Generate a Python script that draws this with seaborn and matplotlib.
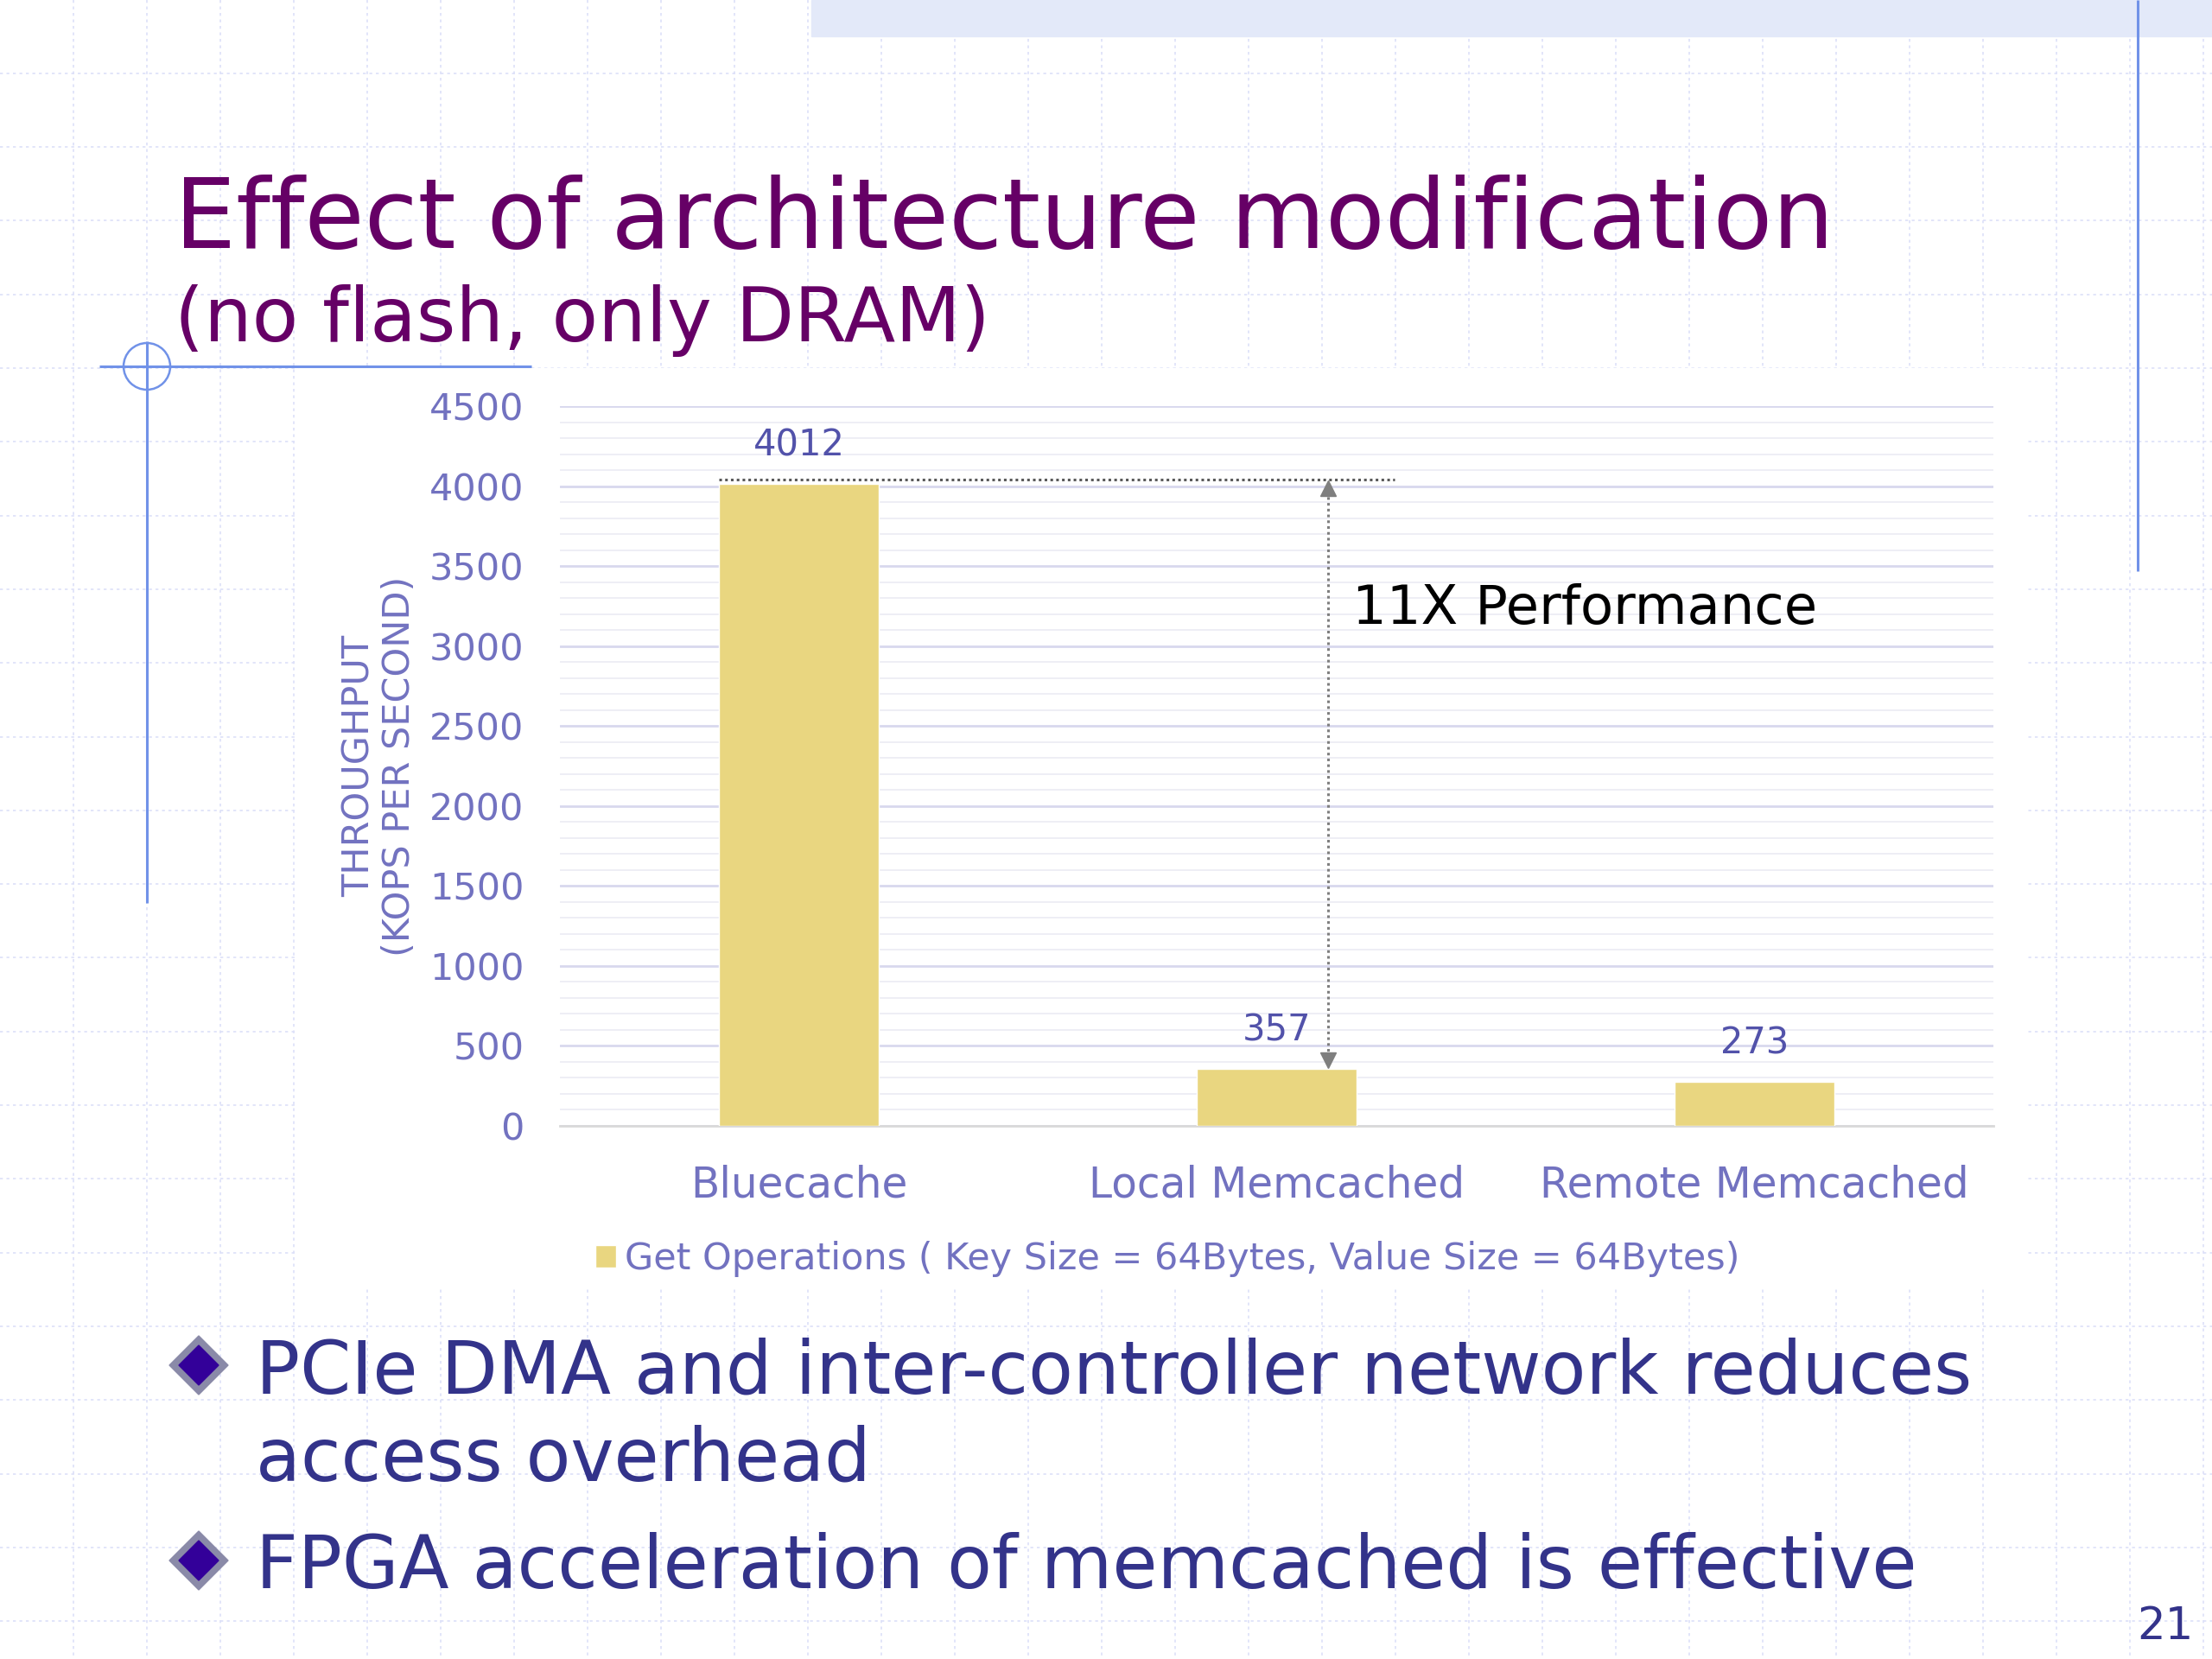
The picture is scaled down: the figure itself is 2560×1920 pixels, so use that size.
import matplotlib
matplotlib.use("Agg")
import matplotlib.pyplot as plt
import seaborn as sns
import numpy as np
from matplotlib.patches import Rectangle, Circle, Polygon
from matplotlib.ticker import MultipleLocator

# chart data
categories = ["Bluecache", "Local Memcached", "Remote Memcached"]
throughput = [4012, 357, 273]
y_ticks = [0, 500, 1000, 1500, 2000, 2500, 3000, 3500, 4000, 4500]
series_label = "Get Operations ( Key Size = 64Bytes, Value Size = 64Bytes)"
y_label = "THROUGHPUT\n(KOPS PER SECOND)"
callout = "11X Performance"

# slide text
title = "Effect of architecture modification"
subtitle = "(no flash, only DRAM)"
bullets = ["PCIe DMA and inter-controller network reduces", "access overhead",
           "FPGA acceleration of memcached is effective"]
page_no = "21"

BAR = "#E9D680"
AXIS_TXT = "#7272C0"
VALUE_TXT = "#5252AA"
BULLET_TXT = "#33338A"
DECO_BLUE = "#7192E8"

sns.set_theme(style="white")
plt.rcParams["font.family"] = ["DejaVu Sans"]

W, H = 2560, 1920
fig = plt.figure(figsize=(W / 100, H / 100), dpi=100)
fig.patch.set_facecolor("white")

# background layer in pixel coordinates
bg = fig.add_axes([0, 0, 1, 1])
bg.set_xlim(0, W)
bg.set_ylim(H, 0)
bg.axis("off")

grid_kw = dict(color="#DDE0F8", lw=1.2, linestyles=(0, (2, 2.5)), zorder=0)
bg.vlines(np.arange(85, W, 85), 0, H, **grid_kw)
bg.hlines(426 + 85.3 * np.arange(-4, 18), 0, W, **grid_kw)

# top band + right rule
bg.add_patch(Rectangle((939, 0), W - 939, 42, color="#E3E9F9", zorder=1))
bg.vlines(2474, 0, 661, color=DECO_BLUE, lw=2.2, zorder=2)

# white chart backdrop
bg.add_patch(Rectangle((345, 426), 2000, 1064, color="white", zorder=2))

# title decoration
bg.hlines(424, 115, 615, color=DECO_BLUE, lw=2.2, zorder=3)
bg.vlines(170, 395, 1045, color=DECO_BLUE, lw=2.2, zorder=3)
bg.add_patch(Circle((170, 424), 27, fill=False, ec=DECO_BLUE, lw=1.8, zorder=3))

bg.text(202, 287, title, fontsize=81, color="#660066", va="baseline", zorder=4)
bg.text(202, 395, subtitle, fontsize=63, color="#660066", va="baseline", zorder=4)

# bullets
for cx, cy in [(230, 1580), (230, 1806)]:
    bg.add_patch(Polygon([(cx - 34, cy), (cx, cy - 34), (cx + 34, cy), (cx, cy + 34)],
                         color="#8A8AA8", zorder=4))
    bg.add_patch(Polygon([(cx - 23, cy), (cx, cy - 23), (cx + 23, cy), (cx, cy + 23)],
                         color="#330099", zorder=5))
for txt, yb in zip(bullets, [1612, 1713, 1837]):
    bg.text(296, yb, txt, fontsize=61, color=BULLET_TXT, va="baseline", zorder=4)

bg.text(2473, 1897, page_no, fontsize=37, color=BULLET_TXT, va="baseline", zorder=4)

# chart
ax = fig.add_axes([648 / W, 1 - 1303 / H, (2307 - 648) / W, (1303 - 470) / H])
ax.set_facecolor("none")
sns.barplot(x=categories, y=throughput, color=BAR, saturation=1, width=0.333,
            errorbar=None, label=series_label, ax=ax, zorder=3)

ax.set_xlim(-0.5, 2.5)
ax.set_ylim(0, 4500)
ax.set_yticks(y_ticks)
ax.yaxis.set_minor_locator(MultipleLocator(100))
ax.grid(which="major", axis="y", color="#D8D8EE", lw=2, zorder=0)
ax.grid(which="minor", axis="y", color="#EDEDF5", lw=1.3, zorder=0)
ax.set_axisbelow(True)
for side in ["top", "right", "left"]:
    ax.spines[side].set_visible(False)
ax.spines["bottom"].set_color("#D9D9D9")
ax.spines["bottom"].set_linewidth(2)

ax.tick_params(axis="y", which="both", length=0, pad=30, labelsize=31, labelcolor=AXIS_TXT)
ax.tick_params(axis="x", length=0, pad=32, labelsize=35, labelcolor=AXIS_TXT)

ylab = ax.set_ylabel(y_label, fontsize=31, color=AXIS_TXT, linespacing=1.15)
ylab.set_va("center")
ax.yaxis.set_label_coords(-0.126, 0.5)

ax.bar_label(ax.containers[0], labels=[str(v) for v in throughput], padding=17,
             fontsize=30, color=VALUE_TXT)

# 11X callout: dotted reference line and double arrow
top_y = throughput[0] + 30
ax.hlines(top_y, -0.167, 1.247, colors="#5A5A5A", lw=2.2, linestyles=(0, (1, 1.2)), zorder=4)
arrow_x = 1.108
ax.vlines(arrow_x, throughput[1] + 40, top_y - 40, colors="#7F7F7F", lw=2.2,
          linestyles=(0, (1, 1.2)), zorder=4)
ax.plot([arrow_x], [top_y - 55], marker="^", ms=13, color="#7F7F7F", zorder=5)
ax.plot([arrow_x], [throughput[1] + 55], marker="v", ms=13, color="#7F7F7F", zorder=5)
ax.text(1.158, 3230, callout, fontsize=45, color="black", va="center", ha="left", zorder=5)

leg = ax.legend(loc="center", bbox_to_anchor=(0.424, -0.185), frameon=False,
                fontsize=31, handlelength=0.55, handleheight=0.55, handletextpad=0.25)
for t in leg.get_texts():
    t.set_color(AXIS_TXT)

fig.savefig("out.png", dpi=100, facecolor="white")
